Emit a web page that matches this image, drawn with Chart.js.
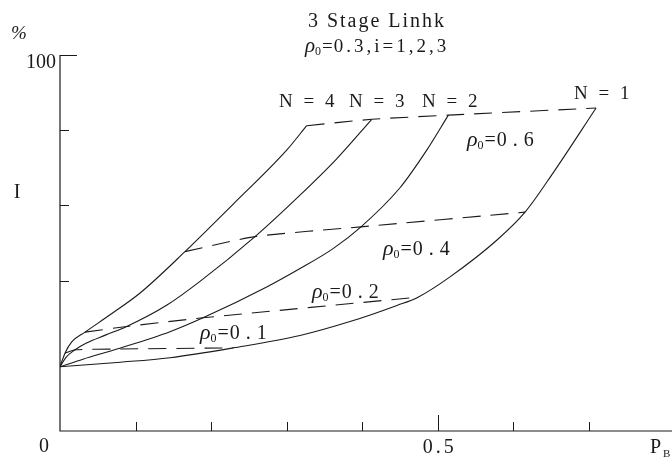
<!DOCTYPE html>
<html>
<head>
<meta charset="utf-8">
<script src="https://cdn.jsdelivr.net/npm/chart.js@4"></script>
<style>
  html, body { margin: 0; padding: 0; background: #fff; }
  #wrap { width: 672px; height: 465px; }
</style>
</head>
<body>
<div id="wrap"><canvas id="link_chart" width="672" height="465"></canvas></div>
<script>
// Solid curves: I (%) against P_B for N = 1..4 stages.
const n4X = [0, 0.0066, 0.0155, 0.0331, 0.0662, 0.106, 0.1654, 0.229, 0.300, 0.3265];
const n4Y = [17.1, 20.7, 23.7, 26.3, 30.9, 36.7, 47.7, 60.3, 74.7, 81.2];

const n3X = [0, 0.008, 0.02, 0.035, 0.06, 0.0883, 0.1416, 0.1853, 0.2581, 0.318, 0.3662, 0.4126];
const n3Y = [17.1, 19.6, 21.6, 23.4, 25.5, 27.8, 33.5, 39.8, 51.7, 62.8, 72.4, 82.9];

const n2X = [0, 0.0304, 0.0754, 0.1456, 0.1893, 0.2736, 0.3177, 0.3614, 0.3984, 0.45, 0.4854, 0.514];
const n2Y = [17.1, 19.1, 21.8, 26.4, 30.1, 38.3, 43.2, 48.5, 54.3, 64.7, 74.7, 84.0];

const n1X = [0, 0.08, 0.1456, 0.229, 0.3177, 0.3838, 0.446, 0.4739, 0.5162, 0.5784, 0.6155, 0.6525, 0.7095];
const n1Y = [17.1, 18.3, 19.5, 22.1, 25.4, 29.1, 33.4, 35.6, 41.0, 50.8, 58.2, 68.6, 85.9];

// Dashed lines of constant rho_0, joining the N curves.
const rho6X = [0.3265, 0.4126, 0.514, 0.7095];
const rho6Y = [81.2, 82.9, 84.0, 85.9];
const rho4X = [0.1654, 0.2581, 0.3984, 0.6155];
const rho4Y = [47.7, 51.7, 54.3, 58.2];
const rho2X = [0.0331, 0.0883, 0.1893, 0.4739];
const rho2Y = [26.3, 27.8, 30.1, 35.6];
const rho1X = [0.0066, 0.02, 0.0754, 0.229];
const rho1Y = [20.7, 21.6, 21.8, 22.1];

// Axis ticks
const xTicks = [0.1, 0.2, 0.3, 0.4, 0.5, 0.6, 0.7];
const yTicks = [40, 60, 80, 100];

const ink = '#1a1a1a';
const serif = '"Liberation Serif", "DejaVu Serif", serif';

const toPoints = (xs, ys) => xs.map((x, i) => ({ x: x, y: ys[i] }));

const solid = (pts) => ({
    data: pts,
    borderColor: ink,
    borderWidth: 1.1,
    pointRadius: 0,
    fill: false,
    cubicInterpolationMode: 'monotone'
});

const dashed = (pts) => ({
    data: pts,
    borderColor: ink,
    borderWidth: 1.1,
    borderDash: [18, 10],
    pointRadius: 0,
    fill: false,
    tension: 0.2
});

// Draws "rho_0=value" the way the figure labels it.
function drawRho(ctx, x, base, value, size, spacing) {
    ctx.textAlign = 'left';
    ctx.font = 'italic ' + (size + 2) + 'px ' + serif;
    ctx.fillText('\u03C1', x, base);
    let cx = x + ctx.measureText('\u03C1').width;
    ctx.font = Math.round(size * 0.62) + 'px ' + serif;
    ctx.fillText('0', cx, base + 3);
    cx += ctx.measureText('0').width + 1;
    ctx.font = size + 'px ' + serif;
    ctx.fillText('=', cx, base);
    cx += ctx.measureText('=').width + 1;
    ctx.letterSpacing = spacing + 'px';
    ctx.fillText(value, cx, base);
    ctx.letterSpacing = '0px';
}

const figurePlugin = {
    id: 'figureDecor',
    afterDraw(chart) {
        const ctx = chart.ctx;
        const xs = chart.scales.x;
        const ys = chart.scales.y;
        const left = xs.getPixelForValue(0);
        const bottom = ys.getPixelForValue(0);
        const top = ys.getPixelForValue(100);
        ctx.save();
        ctx.strokeStyle = ink;
        ctx.fillStyle = ink;
        ctx.lineWidth = 1.2;

        // axes
        ctx.beginPath();
        ctx.moveTo(left, top);
        ctx.lineTo(left, bottom);
        ctx.lineTo(chart.width, bottom);
        ctx.stroke();

        // inward ticks
        ctx.lineWidth = 1;
        ctx.beginPath();
        xTicks.forEach(v => {
            const px = Math.round(xs.getPixelForValue(v)) + 0.5;
            const len = v === 0.5 ? 16 : 9;
            ctx.moveTo(px, bottom);
            ctx.lineTo(px, bottom - len);
        });
        yTicks.forEach(v => {
            const py = Math.round(ys.getPixelForValue(v)) + 0.5;
            const len = v === 100 ? 17 : 9;
            ctx.moveTo(left, py);
            ctx.lineTo(left + len, py);
        });
        ctx.stroke();

        // axis labels
        ctx.textBaseline = 'alphabetic';
        ctx.font = '20px ' + serif;
        ctx.textAlign = 'right';
        ctx.fillText('100', left - 4, top + 13);
        ctx.textAlign = 'center';
        ctx.fillText('I', 17, 198);
        ctx.fillText('0', 44, bottom + 21);
        ctx.letterSpacing = '3px';
        ctx.fillText('0.5', xs.getPixelForValue(0.5) + 2, bottom + 22);
        ctx.letterSpacing = '0px';
        ctx.textAlign = 'left';
        ctx.fillText('P', 650, bottom + 22);
        ctx.font = '11px ' + serif;
        ctx.fillText('B', 663, bottom + 26);
        ctx.font = 'italic 19px ' + serif;
        ctx.fillText('%', 11, 39);

        // title
        ctx.font = '20px ' + serif;
        ctx.textAlign = 'center';
        ctx.letterSpacing = '2px';
        ctx.fillText('3 Stage Linhk', 377, 27);
        ctx.letterSpacing = '0px';
        drawRho(ctx, 305, 52, '0.3,i=1,2,3', 19, 3);

        // curve labels
        ctx.font = '19px ' + serif;
        ctx.textAlign = 'left';
        ctx.letterSpacing = '3px';
        ctx.fillText('N = 4', 279, 107);
        ctx.fillText('N = 3', 349, 107);
        ctx.fillText('N = 2', 422, 107);
        ctx.fillText('N = 1', 574, 99);
        ctx.letterSpacing = '0px';

        drawRho(ctx, 467, 146, '0.6', 20, 6);
        drawRho(ctx, 383, 255, '0.4', 20, 6);
        drawRho(ctx, 312, 298, '0.2', 20, 6);
        drawRho(ctx, 200, 339, '0.1', 20, 6);
        ctx.restore();
    }
};

new Chart(document.getElementById('link_chart'), {
    type: 'line',
    data: {
        datasets: [
            solid(toPoints(n4X, n4Y)),
            solid(toPoints(n3X, n3Y)),
            solid(toPoints(n2X, n2Y)),
            solid(toPoints(n1X, n1Y)),
            dashed(toPoints(rho6X, rho6Y)),
            dashed(toPoints(rho4X, rho4Y)),
            dashed(toPoints(rho2X, rho2Y)),
            dashed(toPoints(rho1X, rho1Y))
        ]
    },
    options: {
        responsive: false,
        animation: false,
        layout: { padding: { left: 60, right: 0, top: 55, bottom: 34 } },
        plugins: {
            legend: { display: false },
            title: { display: false },
            tooltip: { enabled: false }
        },
        scales: {
            x: { type: 'linear', min: 0, max: 0.81, display: false },
            y: { type: 'linear', min: 0, max: 100, display: false }
        }
    },
    plugins: [figurePlugin]
});
</script>
</body>
</html>
